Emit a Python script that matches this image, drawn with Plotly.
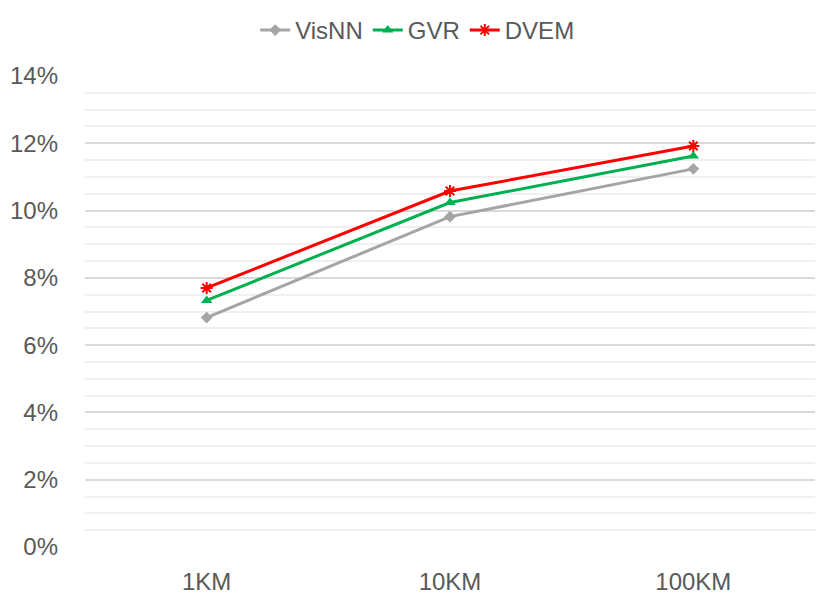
import plotly.graph_objects as go

categories = ["1KM", "10KM", "100KM"]
visnn = [6.82, 9.82, 11.24]
gvr = [7.33, 10.24, 11.62]
dvem = [7.70, 10.58, 11.92]
tick_vals = [0, 2, 4, 6, 8, 10, 12, 14]
tick_text = ["0%", "2%", "4%", "6%", "8%", "10%", "12%", "14%"]

fig = go.Figure()
fig.add_trace(go.Scatter(x=categories, y=visnn, name="VisNN", mode="lines+markers",
                         line=dict(color="#A5A5A5", width=3),
                         marker=dict(symbol="diamond", size=9, color="#A5A5A5")))
fig.add_trace(go.Scatter(x=categories, y=gvr, name="GVR", mode="lines+markers",
                         line=dict(color="#00B050", width=3),
                         marker=dict(symbol="triangle-up", size=10, color="#00B050")))
fig.add_trace(go.Scatter(x=categories, y=dvem, name="DVEM", mode="lines+markers",
                         line=dict(color="#FF0000", width=3),
                         marker=dict(symbol="asterisk", size=10, color="#FF0000",
                                     line=dict(color="#FF0000", width=2))))

font_family = "Liberation Sans, Open Sans, sans-serif"
fig.update_layout(
    width=830, height=609,
    margin=dict(l=77, r=23, t=68, b=70),
    plot_bgcolor="white", paper_bgcolor="white",
    font=dict(family=font_family, size=24, color="#595959"),
    legend=dict(orientation="h", x=0.493, xanchor="center", xref="container",
                y=1.0, yanchor="top", yref="container",
                font=dict(size=24, color="#595959"), tracegroupgap=0),
    showlegend=True,
    xaxis=dict(type="category", range=[-0.5, 2.5], showgrid=False, showline=False,
               ticks="", tickfont=dict(size=24, color="#595959"), zeroline=False,
               automargin=False, ticklabelstandoff=18),
    yaxis=dict(range=[0, 14], tickvals=tick_vals, ticktext=tick_text,
               showgrid=True, gridcolor="#D9D9D9", gridwidth=1.5, zeroline=False,
               showline=False, ticks="", tickfont=dict(size=24, color="#595959"),
               minor=dict(dtick=0.5, showgrid=True, gridcolor="#F0F0F0", gridwidth=1.5),
               ticklabelstandoff=26, automargin=False),
)
fig.write_html("out.html")
